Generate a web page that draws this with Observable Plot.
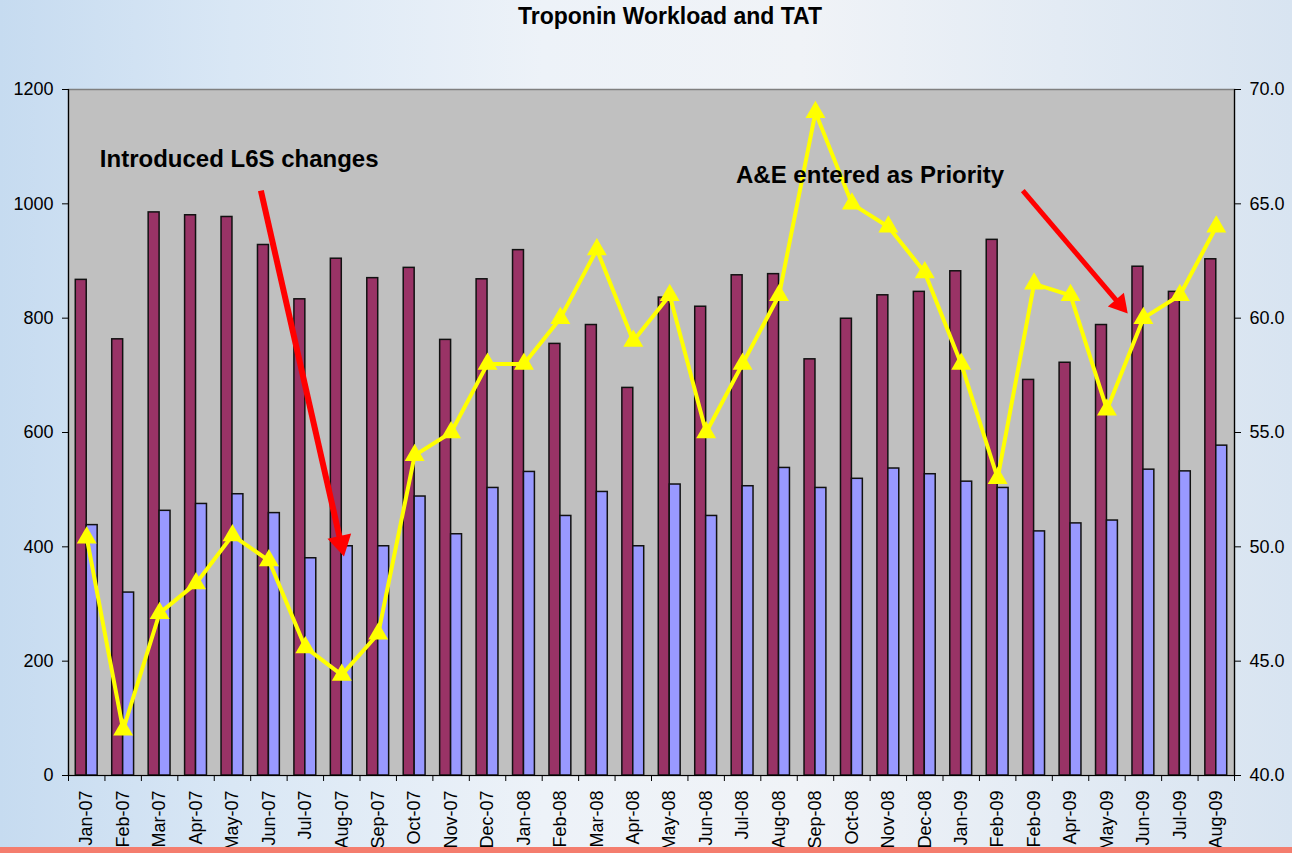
<!DOCTYPE html>
<html>
<head>
<meta charset="utf-8">
<script src="https://cdn.jsdelivr.net/npm/d3@7"></script>
<script src="https://cdn.jsdelivr.net/npm/@observablehq/plot@0.6"></script>
<style>
  html, body { margin: 0; padding: 0; }
  body {
    width: 1292px; height: 853px; position: relative; overflow: hidden;
    font-family: Arial, "Liberation Sans", sans-serif;
    background: linear-gradient(90deg, #c6dbf0 0%, #d9e7f5 18%, #edf2f8 42%, #f0f3f7 62%, #e3ebf4 82%, #d8e4f1 100%);
  }
  #title {
    position: absolute; left: 0; top: 3px; width: 1340px; text-align: center;
    font-weight: bold; font-size: 23px; color: #000;
  }
  #stripe { position: absolute; left: 0; bottom: 0; width: 100%; height: 6px; background: #f47d6e; }
  #chart { position: absolute; left: 0; top: 0; }
</style>
</head>
<body>
<div id="chart"></div>
<div id="title">Troponin Workload and TAT</div>
<div id="stripe"></div>
<script>
// Category labels (as printed on the original, including the repeated "Feb-09")
const months = ["Jan-07","Feb-07","Mar-07","Apr-07","May-07","Jun-07","Jul-07","Aug-07","Sep-07","Oct-07","Nov-07","Dec-07",
  "Jan-08","Feb-08","Mar-08","Apr-08","May-08","Jun-08","Jul-08","Aug-08","Sep-08","Oct-08","Nov-08","Dec-08",
  "Jan-09","Feb-09","Feb-09","Apr-09","May-09","Jun-09","Jul-09","Aug-09"];

// Left axis series (counts)
const workload = [867, 763, 985, 980, 977, 928, 833, 904, 870, 888, 762, 868,
  919, 755, 788, 678, 836, 820, 875, 877, 728, 799, 840, 846,
  882, 937, 692, 722, 788, 890, 846, 903];
const secondSeries = [438, 320, 463, 475, 492, 459, 380, 401, 401, 488, 422, 503,
  531, 454, 496, 401, 509, 454, 506, 538, 503, 519, 537, 527,
  514, 503, 427, 441, 446, 535, 532, 577];

// Right axis series (TAT)
const tat = [50.4, 42.0, 47.1, 48.4, 50.5, 49.4, 45.6, 44.4, 46.2, 54.0, 55.0, 58.0,
  58.0, 60.0, 63.0, 59.0, 61.0, 55.0, 58.0, 61.0, 69.0, 65.0, 64.0, 62.0,
  58.0, 53.0, 61.5, 61.0, 56.0, 60.0, 61.0, 64.0];

// Axis ticks
const leftTicks = [0, 200, 400, 600, 800, 1000, 1200];
const rightTicks = [40, 45, 50, 55, 60, 65, 70];

// Annotations (in data coordinates: x = category index, y = left-axis value)
const noteLabels = ["Introduced L6S changes", "A&E entered as Priority"];
const noteX = [0.36, 17.82];
const noteY = [1078, 1050];
const arrowFrom = [[4.78, 1023], [25.69, 1023]];
const arrowTo = [[7.06, 383], [28.57, 808]];

// Map right-axis (TAT 40..70) onto the left-axis range (0..1200)
const rightMin = 40, rightMax = 70, leftMax = 1200;
const toLeft = t => (t - rightMin) * leftMax / (rightMax - rightMin);

const rows = months.map((m, i) => ({i, month: m, workload: workload[i], second: secondSeries[i], tat: tat[i]}));
const notes = noteLabels.map((label, k) => ({label, x: noteX[k], y: noteY[k]}));
const arrows = arrowFrom.map((f, k) => ({x1: f[0], y1: f[1], x2: arrowTo[k][0], y2: arrowTo[k][1], w: k === 0 ? 6 : 5, head: k === 0 ? 6.2 : 5.4}));

function build(extra) {
  return Plot.plot({
    width: 1292,
    height: 853,
    marginTop: 89,
    marginBottom: 78,
    marginLeft: 68,
    marginRight: 58,
    style: {background: "transparent", fontFamily: "Arial, 'Liberation Sans', sans-serif", fontSize: "18px", color: "black", overflow: "visible"},
    x: {domain: [-0.5, months.length - 0.5], axis: null},
    y: {domain: [0, leftMax], axis: null},
    marks: [
      Plot.frame({fill: "#c0c0c0", stroke: "#7f7f7f", strokeWidth: 1.5}),
      Plot.rect(rows, {x1: d => d.i - 0.3, x2: d => d.i, y1: 0, y2: "workload", fill: "#993366", stroke: "#111", strokeWidth: 1.5}),
      Plot.rect(rows, {x1: d => d.i, x2: d => d.i + 0.3, y1: 0, y2: "second", fill: "#9999ff", stroke: "#111", strokeWidth: 1.5}),
      Plot.ruleX([-0.5], {stroke: "black", strokeWidth: 1.2}),
      Plot.ruleX([months.length - 0.5], {stroke: "black", strokeWidth: 1.2}),
      Plot.ruleY([0], {stroke: "black", strokeWidth: 1.2}),
      Plot.axisY({anchor: "left", ticks: leftTicks, tickFormat: d => String(d), tickSize: 6, tickPadding: 9, fontSize: 18}),
      Plot.axisY({anchor: "right", ticks: rightTicks.map(toLeft), tickFormat: v => (rightMin + v * (rightMax - rightMin) / leftMax).toFixed(1), tickSize: 6, tickPadding: 9, fontSize: 18}),
      Plot.axisX({anchor: "bottom", ticks: d3.range(months.length), tickFormat: i => months[i], tickRotate: -90, tickSize: 0, tickPadding: 15, fontSize: 18}),
      Plot.axisX({anchor: "bottom", ticks: d3.range(months.length + 1).map(k => k - 0.5), tickFormat: () => "", tickSize: 6}),
      Plot.line(rows, {x: "i", y: d => toLeft(d.tat), stroke: "#ffff00", strokeWidth: 4}),
      Plot.dot(rows, {x: "i", y: d => toLeft(d.tat), symbol: "triangle", r: 7.4, fill: "#ffff00", stroke: "none"}),
      Plot.text(notes, {x: "x", y: "y", text: "label", textAnchor: "start", fontWeight: "bold", fontSize: 24, fill: "black"}),
      ...extra
    ]
  });
}

// First pass to obtain the scales, then compute arrow head orientation in screen space
const probe = build([]);
const sx = probe.scale("x"), sy = probe.scale("y");
const arrowMarks = [];
arrows.forEach(a => {
  const px1 = sx.apply(a.x1), py1 = sy.apply(a.y1), px2 = sx.apply(a.x2), py2 = sy.apply(a.y2);
  const len = Math.hypot(px2 - px1, py2 - py1);
  const ux = (px2 - px1) / len, uy = (py2 - py1) / len;
  const rot = Math.atan2(ux, -uy) * 180 / Math.PI;
  // triangle symbol: half-height unit |y| = r*sqrt(pi/(3*sqrt3)); tip is 2|y| from centroid
  const yy = a.head * Math.sqrt(Math.PI / (3 * Math.sqrt(3)));
  const baseX = sx.invert(px2 - 3 * yy * ux + ux), baseY = sy.invert(py2 - 3 * yy * uy + uy);
  arrowMarks.push(Plot.link([a], {x1: "x1", y1: "y1", x2: () => baseX, y2: () => baseY, stroke: "#ff0000", strokeWidth: a.w, strokeLinecap: "butt"}));
  arrowMarks.push(Plot.dot([a], {x: "x2", y: "y2", symbol: "triangle", r: a.head * 1.45, rotate: rot, fill: "#ff0000", stroke: "none",
    dx: -2 * yy * 1.45 * ux, dy: -2 * yy * 1.45 * uy}));
});

document.getElementById("chart").appendChild(build(arrowMarks));
</script>
</body>
</html>
